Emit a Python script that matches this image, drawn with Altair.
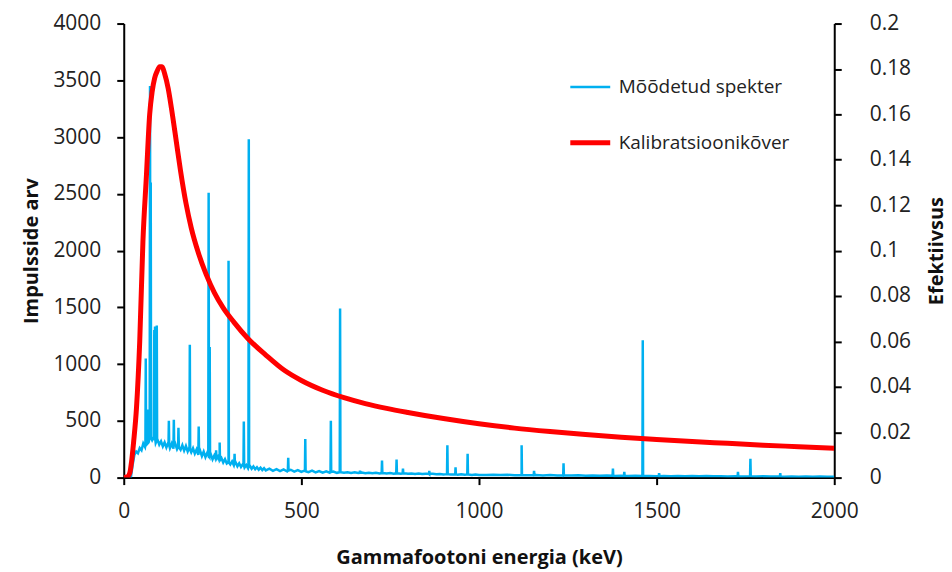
import altair as alt
import pandas as pd

# ---- continuum of the measured spectrum (keV, counts) ----
cont_e = list(range(20, 401, 5)) + list(range(410, 1001, 10)) + list(range(1020, 2001, 20))
cont_c = [
    0, 110, 200, 230, 215, 260, 240, 300, 270, 350, 310, 375, 330, 360, 305, 335,
    290, 320, 275, 310, 265, 305, 260, 300, 255, 298, 250, 292, 245, 285, 238, 278,
    230, 268, 222, 258, 212, 248, 200, 238, 190, 228, 180, 218, 170, 206, 160, 195,
    150, 184, 142, 172, 133, 162, 124, 152, 116, 142, 108, 134, 100, 126, 94, 118,
    88, 110, 82, 104, 78, 98, 74, 92, 70, 87, 66, 83, 63,
    78, 60, 75, 57, 72, 54, 69, 52, 66, 50, 63, 48, 61, 46, 58, 44, 56, 43, 54, 42,
    49, 42, 47, 41, 46, 40, 44, 39, 43, 38, 42, 37, 41, 36, 40, 35, 39, 34, 38, 33,
    36, 32, 35, 31, 34, 30, 33, 29, 32, 28, 31, 27, 30, 26, 29, 25, 28, 24, 27, 23,
    23, 26, 22, 25, 21, 24, 20, 23, 19, 22, 18, 21, 18, 20, 17, 19, 16, 18, 15, 17,
    14, 16, 14, 15, 13, 15, 12, 14, 12, 13, 11, 13, 11, 12, 10, 12, 10, 11, 9, 11,
    9, 10, 8, 10, 8, 9, 7, 9, 7, 8,
]

# ---- peaks: energy (keV), peak height, local continuum ----
peak_e = [62, 66, 74, 76, 86, 88, 93, 127, 141, 154, 186, 211, 239, 242, 260, 270,
          295, 312, 338, 352, 463, 511, 583, 609, 665, 727, 768, 786, 860, 911, 934,
          968, 1120, 1155, 1238, 1377, 1409, 1461, 1507, 1729, 1764, 1848]
peak_h = [1050, 600, 3450, 2600, 1300, 1330, 1340, 500, 510, 440, 1170, 450, 2510,
          1150, 240, 310, 1910, 210, 495, 2980, 175, 340, 500, 1490, 60, 150, 160,
          80, 60, 285, 90, 210, 285, 60, 125, 80, 50, 1210, 40, 50, 165, 40]
peak_b = [290, 300, 350, 350, 330, 330, 320, 285, 280, 270, 245, 220, 190, 185, 165,
          155, 135, 120, 100, 92, 62, 56, 50, 48, 42, 40, 38, 37, 33, 30, 29, 28, 22,
          21, 19, 16, 15, 14, 13, 11, 11, 10]

# ---- calibration (efficiency) curve ----
eff_e = [0, 10, 17, 22, 28, 36, 45, 54, 64, 73, 80, 87, 94, 101, 108, 115, 125, 134,
         148, 160, 175, 190, 210, 232, 255, 280, 310, 350, 400, 450, 500, 560, 620, 680,
         740, 800, 900, 1000, 1100, 1200, 1300, 1400, 1500, 1600, 1700, 1800, 1900, 2000]
eff_v = [0, 0.0003, 0.002, 0.007, 0.016, 0.031, 0.060, 0.104, 0.1335, 0.160, 0.170,
         0.176, 0.179, 0.181, 0.181, 0.178, 0.1715, 0.163, 0.148, 0.135, 0.121, 0.110,
         0.099, 0.0895, 0.0815, 0.0748, 0.0685, 0.0612, 0.0540, 0.0475, 0.0428, 0.0385,
         0.0352, 0.0326, 0.0305, 0.0287, 0.0260, 0.0237, 0.0218, 0.0203, 0.0190,
         0.0178, 0.0168, 0.0159, 0.0151, 0.0143, 0.0136, 0.0129]

series_names = ["Mõõdetud spekter", "Kalibratsioonikõver"]
series_colors = ["#00B0F0", "#FF0000"]
series_widths = [2.5, 5]

rows = [(e, c, 0) for e, c in zip(cont_e, cont_c)]
for e, h, b in zip(peak_e, peak_h, peak_b):
    rows += [(e - 1, b, 1), (e, h, 2), (e + 1, b, 3)]
rows.sort(key=lambda r: (r[0], r[2]))
spec = pd.DataFrame(rows, columns=["E", "counts", "o"])
spec["order"] = range(len(spec))
spec["s"] = series_names[0]

eff = pd.DataFrame({"E": eff_e, "eff": eff_v})
eff["s"] = series_names[1]

FONT = "Open Sans"
xscale = alt.Scale(domain=[0, 2000], nice=False)
color_scale = alt.Scale(domain=series_names, range=series_colors)
width_scale = alt.Scale(domain=series_names, range=series_widths)

legend = alt.Legend(title=None, orient="none", legendX=445, legendY=42,
                    symbolType="stroke", symbolSize=1600,
                    labelFontSize=19, labelFont=FONT, labelColor="#222", labelLimit=400,
                    rowPadding=23, labelOffset=6)

x_axis = alt.Axis(values=[0, 500, 1000, 1500, 2000], format="d", title="Gammafootoni energia (keV)",
                  grid=False, tickSize=7, labelPadding=16, titlePadding=26, labelFlush=False)

spectrum = alt.Chart(spec).mark_line(clip=True).encode(
    x=alt.X("E:Q", scale=xscale, axis=x_axis),
    y=alt.Y("counts:Q", scale=alt.Scale(domain=[0, 4000], nice=False),
            axis=alt.Axis(values=list(range(0, 4001, 500)), format="d", title="Impulsside arv",
                          grid=False, tickSize=7, labelPadding=16, titlePadding=11,
                          labelFlush=False)),
    order="order:Q",
    color=alt.Color("s:N", scale=color_scale, legend=legend),
    strokeWidth=alt.StrokeWidth("s:N", scale=width_scale, legend=legend),
)

curve = alt.Chart(eff).mark_line(interpolate="monotone", clip=True).encode(
    x=alt.X("E:Q", scale=xscale, axis=x_axis),
    y=alt.Y("eff:Q", scale=alt.Scale(domain=[0, 0.2], nice=False),
            axis=alt.Axis(values=[round(i * 0.02, 2) for i in range(11)], orient="right",
                          labelExpr="format(datum.value, '.2~f')", title="Efektiivsus",
                          titleAngle=270, titleBaseline="top", grid=False, tickSize=7,
                          labelPadding=28, titlePadding=16, labelFlush=False)),
    color=alt.Color("s:N", scale=color_scale, legend=legend),
    strokeWidth=alt.StrokeWidth("s:N", scale=width_scale, legend=legend),
)

chart = alt.layer(spectrum, curve).resolve_scale(y="independent").properties(
    width=712, height=455, padding={"left": 21, "top": 12, "right": 5, "bottom": 5}
).configure_view(stroke=None).configure_axis(
    domainColor="#000", domainWidth=2, tickColor="#000", tickWidth=2,
    labelFont=FONT, labelFontSize=21, labelColor="#222",
    titleFont=FONT, titleFontSize=20, titleFontWeight="bold", titleColor="#111",
)

chart.save("out.html", embed_options={"renderer": "svg", "actions": False})
